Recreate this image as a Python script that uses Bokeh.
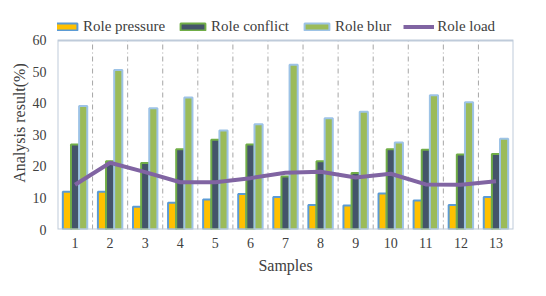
from bokeh.plotting import figure
from bokeh.models import FixedTicker, Legend, LegendItem, ColumnDataSource
from bokeh.embed import file_html
from bokeh.resources import INLINE

samples = list(range(1, 14))
tick_labels = [str(s) for s in samples]
y_ticks = [0, 10, 20, 30, 40, 50, 60]
role_pressure = [12.0, 12.0, 7.2, 8.5, 9.5, 11.3, 10.3, 7.8, 7.6, 11.4, 9.2, 7.8, 10.3]
role_conflict = [27.0, 21.7, 21.1, 25.5, 28.5, 27.0, 16.8, 21.7, 17.9, 25.5, 25.3, 23.8, 24.0]
role_blur = [39.2, 50.6, 38.5, 41.9, 31.4, 33.4, 52.3, 35.3, 37.4, 27.6, 42.6, 40.4, 28.8]
role_load = [14.2, 21.2, 18.2, 15.0, 15.0, 16.3, 18.0, 18.3, 16.5, 17.7, 14.3, 14.2, 15.3]

FONT = "Liberation Serif"
bw = 0.232
W, H = 539, 288
Y_MAX = y_ticks[-1]

src = ColumnDataSource(dict(
    x=samples,
    x1=[s - bw for s in samples],
    x3=[s + bw for s in samples],
    p=role_pressure, c=role_conflict, b=role_blur, l=role_load,
))

p = figure(width=W, height=H, x_range=(0.5, 13.5), y_range=(0, 67.6),
           output_backend="svg", toolbar_location=None,
           min_border_left=57, min_border_right=26, min_border_top=16, min_border_bottom=59)
p.border_fill_color = "white"
p.outline_line_color = None
p.background_fill_color = "white"
p.xgrid.grid_line_color = None
p.ygrid.grid_line_color = None

# dashed separators between samples
seps = [s + 0.5 for s in samples[:-1]]
p.segment(x0=seps, y0=[0] * len(seps), x1=seps, y1=[Y_MAX] * len(seps),
          line_color="#A6A6A6", line_dash="5 3 1 3", line_width=1)

r1 = p.vbar(x="x1", top="p", width=bw, source=src, fill_color="#FFC000",
            line_color="#5B9BD5", line_width=2)
r2 = p.vbar(x="x", top="c", width=bw, source=src, fill_color="#44546A",
            line_color="#70AD47", line_width=2)
r3 = p.vbar(x="x3", top="b", width=bw, source=src, fill_color="#9BBB59",
            line_color="#9DC3E6", line_width=2)
r4 = p.line(x="x", y="l", source=src, line_color="#8064A2", line_width=4)

# plot-area border (0..60)
p.quad(left=[0.5], right=[13.5], bottom=[0], top=[Y_MAX], fill_color=None,
       line_color="#BFCBDA", line_width=2)

p.xaxis.ticker = FixedTicker(ticks=samples)
p.xaxis.major_label_overrides = {s: t for s, t in zip(samples, tick_labels)}
p.yaxis.ticker = FixedTicker(ticks=y_ticks)

for ax in (p.xaxis, p.yaxis):
    ax.axis_line_color = None
    ax.major_tick_line_color = None
    ax.minor_tick_line_color = None
    ax.major_tick_out = 0
    ax.major_tick_in = 0
    ax.minor_tick_out = 0
    ax.minor_tick_in = 0
    ax.major_label_text_font = FONT
    ax.major_label_text_font_size = "14px"
    ax.major_label_text_color = "#404040"
    ax.axis_label_text_font = FONT
    ax.axis_label_text_font_style = "normal"
    ax.axis_label_text_font_size = "16px"
    ax.axis_label_text_color = "#404040"

p.xaxis.major_label_standoff = 8
p.yaxis.major_label_standoff = 11
p.xaxis.axis_label = "Samples"
p.yaxis.axis_label = "Analysis result(%)"
p.xaxis.axis_label_standoff = 6
p.yaxis.axis_label_standoff = 2

legend = Legend(items=[
    LegendItem(label="Role pressure", renderers=[r1]),
    LegendItem(label="Role conflict", renderers=[r2]),
    LegendItem(label="Role blur", renderers=[r3]),
    LegendItem(label="Role load", renderers=[r4]),
], orientation="horizontal", location=(-8, 194))
legend.padding = 0
legend.margin = 0
legend.spacing = 12
legend.label_standoff = 3
legend.glyph_width = 31
legend.glyph_height = 9
legend.label_text_font = FONT
legend.label_text_font_size = "15px"
legend.label_text_color = "#404040"
legend.border_line_color = None
legend.background_fill_alpha = 0
p.add_layout(legend, "center")

open("out.html", "w").write(file_html(p, INLINE))
